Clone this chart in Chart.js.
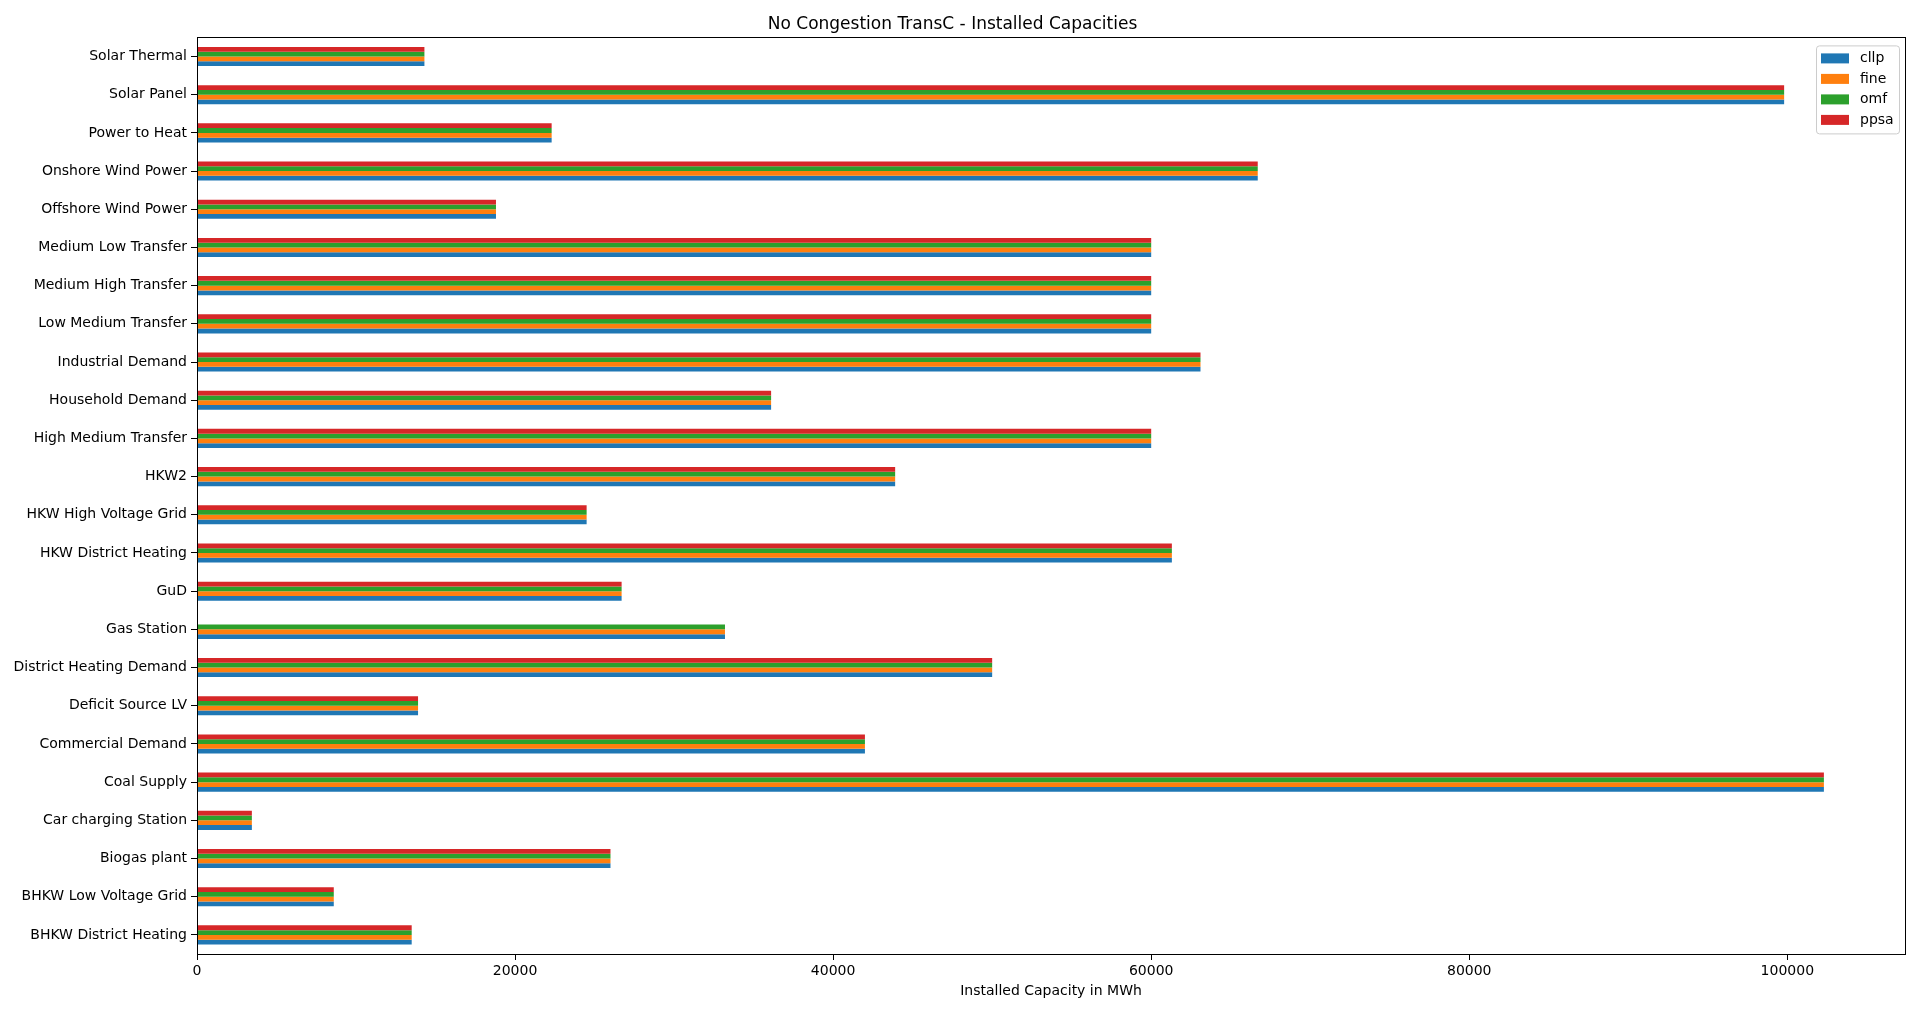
<!DOCTYPE html>
<html>
<head>
<meta charset="utf-8">
<script src="https://cdn.jsdelivr.net/npm/chart.js@4/dist/chart.umd.min.js"></script>
<style>
  body { margin: 0; background: #fff; }
  canvas { display: block; }
</style>
</head>
<body>
<canvas id="chart" width="1920" height="1013"></canvas>
<script>
// categories, listed top to bottom as in the picture
const categories = [
    'Solar Thermal', 'Solar Panel', 'Power to Heat', 'Onshore Wind Power',
    'Offshore Wind Power', 'Medium Low Transfer', 'Medium High Transfer',
    'Low Medium Transfer', 'Industrial Demand', 'Household Demand',
    'High Medium Transfer', 'HKW2', 'HKW High Voltage Grid', 'HKW District Heating',
    'GuD', 'Gas Station', 'District Heating Demand', 'Deficit Source LV',
    'Commercial Demand', 'Coal Supply', 'Car charging Station', 'Biogas plant',
    'BHKW Low Voltage Grid', 'BHKW District Heating'
];

const cllp = [14300, 99800, 22300, 66700, 18800, 60000, 60000, 60000, 63100, 36100,
    60000, 43900, 24500, 61300, 26700, 33200, 50000, 13900, 42000, 102300,
    3450, 26000, 8600, 13500];
const fine = [14300, 99800, 22300, 66700, 18800, 60000, 60000, 60000, 63100, 36100,
    60000, 43900, 24500, 61300, 26700, 33200, 50000, 13900, 42000, 102300,
    3450, 26000, 8600, 13500];
const omf = [14300, 99800, 22300, 66700, 18800, 60000, 60000, 60000, 63100, 36100,
    60000, 43900, 24500, 61300, 26700, 33200, 50000, 13900, 42000, 102300,
    3450, 26000, 8600, 13500];
const ppsa = [14300, 99800, 22300, 66700, 18800, 60000, 60000, 60000, 63100, 36100,
    60000, 43900, 24500, 61300, 26700, null, 50000, 13900, 42000, 102300,
    3450, 26000, 8600, 13500];

const xTicks = [0, 20000, 40000, 60000, 80000, 100000];
const xMax = 107400;

Chart.defaults.font.family = "'DejaVu Sans', sans-serif";
Chart.defaults.color = '#000';

// matplotlib-like frame and legend box inside the axes
const framePlugin = {
    id: 'frame',
    afterDatasetsDraw(chart) {
        const { ctx, chartArea: a } = chart;
        ctx.save();
        ctx.strokeStyle = '#000';
        ctx.lineWidth = 1;
        ctx.strokeRect(Math.round(a.left) + 0.5, Math.round(a.top) + 0.5,
            Math.round(a.right - a.left), Math.round(a.bottom - a.top));

        // legend
        const items = chart.data.datasets.slice().reverse();
        const bx = a.right - 89, by = a.top + 8, bw = 83, bh = 88;
        ctx.fillStyle = 'rgba(255,255,255,0.8)';
        ctx.strokeStyle = '#cccccc';
        ctx.beginPath();
        ctx.roundRect(bx + 0.5, by + 0.5, bw, bh, 3);
        ctx.fill();
        ctx.stroke();
        ctx.font = "14px 'DejaVu Sans'";
        ctx.textBaseline = 'middle';
        items.forEach((d, i) => {
            const cy = by + 13 + i * 20.5;
            ctx.fillStyle = d.backgroundColor;
            ctx.fillRect(bx + 5, cy - 5, 28, 10);
            ctx.fillStyle = '#000';
            ctx.fillText(d.label, bx + 44, cy);
        });
        ctx.restore();
    }
};

new Chart(document.getElementById('chart'), {
    type: 'bar',
    data: {
        labels: categories,
        datasets: [
            { label: 'ppsa', data: ppsa, backgroundColor: '#d62728' },
            { label: 'omf', data: omf, backgroundColor: '#2ca02c' },
            { label: 'fine', data: fine, backgroundColor: '#ff7f0e' },
            { label: 'cllp', data: cllp, backgroundColor: '#1f77b4' }
        ]
    },
    options: {
        indexAxis: 'y',
        responsive: false,
        animation: false,
        datasets: { bar: { categoryPercentage: 0.5, barPercentage: 1.0 } },
        layout: { padding: { left: 0, right: 15, top: 0, bottom: 0 } },
        plugins: {
            legend: { display: false },
            tooltip: { enabled: false },
            title: {
                display: true,
                text: 'No Congestion TransC - Installed Capacities',
                font: { size: 17, weight: 'normal' },
                padding: { top: 14, bottom: 3 }
            }
        },
        scales: {
            x: {
                min: 0,
                max: xMax,
                afterBuildTicks(scale) {
                    scale.ticks = xTicks.map(v => ({ value: v }));
                },
                afterFit(scale) { scale.height = 59; },
                grid: { display: true, drawOnChartArea: false, drawTicks: true, tickLength: 6, color: '#000' },
                border: { display: false },
                ticks: {
                    font: { size: 14 }, padding: 3, maxRotation: 0,
                    callback: v => String(v)
                },
                title: {
                    display: true,
                    text: 'Installed Capacity in MWh',
                    font: { size: 14 },
                    padding: { top: 0, bottom: 13 }
                }
            },
            y: {
                afterFit(scale) { scale.width = 197; },
                grid: { display: true, drawOnChartArea: false, drawTicks: true, tickLength: 6, color: '#000', offset: false },
                border: { display: false },
                ticks: { font: { size: 14 }, padding: 4, autoSkip: false }
            }
        }
    },
    plugins: [framePlugin]
});
</script>
</body>
</html>
